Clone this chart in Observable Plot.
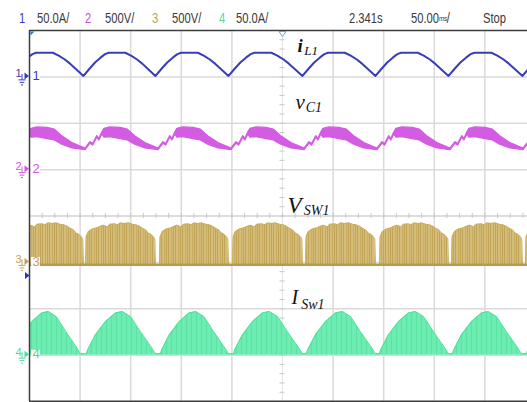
<!DOCTYPE html>
<html><head><meta charset="utf-8">
<script src="https://cdn.jsdelivr.net/npm/d3@7"></script>
<script src="https://cdn.jsdelivr.net/npm/@observablehq/plot@0.6"></script>
<style>
html,body{margin:0;padding:0;background:#fff;width:527px;height:402px;overflow:hidden;}
#hdr{position:relative;height:28px;width:527px;font-family:"Liberation Sans",Arial,sans-serif;font-size:14px;color:#3a3a3a;}
#hdr span{position:absolute;top:11px;line-height:14px;transform:scaleX(0.8);transform-origin:0 0;white-space:nowrap;}
#hdr small{font-size:8px;letter-spacing:-0.5px;vertical-align:2px;}
#chart svg{display:block;}
</style></head><body>
<div id="hdr"></div><div id="chart"></div>
<script>
// ---------- header ----------
const headerText  = ["1","50.0A/","2","500V/","3","500V/","4","50.0A/","2.341s","50.00|ms|/","Stop"];
const headerX     = [19,37,85,105,152,172,219,236,349,411,483];
const headerColor = ["#3a3db5","#3a3a3a","#c44fd6","#3a3a3a","#b8a45e","#3a3a3a","#52d99a","#3a3a3a","#3a3a3a","#3a3a3a","#3a3a3a"];

// ---------- channels ----------
const chNames = ["1","2","3","4"];
const chZero  = [7,5,3,1];               // zero level of each channel, in divisions
const chColor = ["#3a3db5","#cf55e0","#bfa257","#4fdc98"];

// ---------- grid ----------
const xDivs = 9.842;                    // visible horizontal divisions
const gridX = [1,2,3,4,6,7,8,9];
const gridY = [1,2,3,5,6,7];
const centerX = 5, centerY = 4;
const minorX = d3.range(0, 9.9, 0.25);
const minorY = d3.range(0, 8.01, 0.2);

// ---------- CH1  i_L1 (valleys in div, hump shape f -> div) ----------
const iL1Valleys = [-0.375,1.067,2.490,3.933,5.395,6.838,8.281,9.743,11.19];
const iL1ShapeF  = [0,0.08,0.16,0.24,0.30,0.35,0.58,0.66,0.74,0.82,0.91,1];
const iL1ShapeV  = [0.02,0.17,0.31,0.42,0.49,0.52,0.52,0.46,0.38,0.28,0.15,0.02];

// ---------- CH2  v_C1 (band: lower / upper envelope) ----------
const vC1Valleys = [-0.336,1.107,2.549,3.992,5.435,6.877,8.320,9.763,11.206];
const vC1ShapeF  = [0,0.068,0.105,0.16,0.19,0.23,0.26,0.34,0.48,0.58,0.68,0.82,1];
const vC1Lo      = [0.42,0.56,0.52,0.69,0.63,0.76,0.69,0.70,0.66,0.63,0.54,0.46,0.42];
const vC1Hi      = [0.45,0.59,0.55,0.72,0.66,0.80,0.88,0.91,0.90,0.86,0.72,0.57,0.45];

// ---------- CH3  V_SW1 (switching envelope) ----------
const vSWRise   = [-0.336,1.107,2.569,4.012,5.455,6.917,8.340,9.802];
const vSWDrop   = [1.067,2.490,3.933,5.395,6.838,8.281,9.743,11.206];
const vSWShapeF = [0,0.01,0.04,0.1,0.16,0.2,0.25,0.28,0.31,0.35,0.42,0.46,0.5,0.56,0.62,0.67,0.72,0.77,0.82,0.86,0.9,0.94,0.97,0.99,1];
const vSWShapeV = [-0.05,0.55,0.66,0.72,0.74,0.77,0.80,0.79,0.76,0.82,0.83,0.81,0.85,0.84,0.85,0.82,0.81,0.78,0.73,0.70,0.63,0.60,0.55,0.5,-0.05];

// ---------- CH4  I_Sw1 ----------
const iSWStart  = [-0.316,1.126,2.589,4.032,5.474,6.917,8.360,9.822];
const iSWEnd    = [1.008,2.490,3.933,5.395,6.838,8.281,9.723,11.166];
const iSWShapeF = [0,0.02,0.13,0.28,0.42,0.52,0.64,0.78,0.93,1];
const iSWShapeV = [0.03,0.12,0.44,0.73,0.91,0.94,0.83,0.51,0.19,0.03];

// ---------- labels ----------
const labelMain = ["i","v","V","I"];
const labelSub  = ["L1","C1","SW1","Sw1"];
const labelX    = [5.296,5.257,5.099,5.178];
const labelY    = [7.547,6.307,4.075,2.092];
const labelSize = [19,21,23,20];
const subX      = [5.43,5.46,5.42,5.37];
const subY      = [7.461,6.232,4.011,2.005];
const subSize   = [13,14,14,14];

// ---------- trigger markers ----------
const trigPos = [5];
const trigLevel = [2.717];

// ---------- header render ----------
const hdr = document.getElementById("hdr");
headerText.forEach((t,i)=>{
  const s = document.createElement("span");
  s.style.left = headerX[i]+"px"; s.style.color = headerColor[i];
  if (t.includes("|")) { const p=t.split("|"); s.innerHTML = p[0]+"<small>"+p[1]+"</small>"+p[2]; }
  else s.textContent = t;
  hdr.appendChild(s);
});

// ---------- build tables ----------
function humps(starts, ends, F, cols, zero) {
  const pts = [];
  starts.forEach((s,i)=>{
    const e = ends[i];
    F.forEach((f,j)=>{
      const p = {x: s + f*(e-s)};
      for (const k in cols) p[k] = zero + cols[k][j];
      pts.push(p);
    });
  });
  return pts;
}
const ch1 = humps(iL1Valleys.slice(0,-1), iL1Valleys.slice(1), iL1ShapeF, {y:iL1ShapeV}, chZero[0]);
const ch2 = humps(vC1Valleys.slice(0,-1), vC1Valleys.slice(1), vC1ShapeF, {lo:vC1Lo, hi:vC1Hi}, chZero[1]);
const ch3 = humps(vSWRise, vSWDrop, vSWShapeF, {y:vSWShapeV}, chZero[2]);
const ch4 = humps(iSWStart, iSWEnd, iSWShapeF, {y:iSWShapeV}, chZero[3]);
const markers = chNames.map((n,i)=>({n, y:chZero[i], c:chColor[i]}));
const labels = labelMain.map((m,i)=>({m, s:labelSub[i], x:labelX[i], y:labelY[i], fs:labelSize[i], sx:subX[i], sy:subY[i], ss:subSize[i]}));

// custom symbols
const groundSym = {draw(c){ c.moveTo(0,-3); c.lineTo(0,3); c.moveTo(-3.5,3); c.lineTo(3.5,3);
  c.moveTo(-2.3,5.5); c.lineTo(2.3,5.5); c.moveTo(-1,8); c.lineTo(1,8); }};
const arrowRight = {draw(c){ c.moveTo(-2,-3.5); c.lineTo(2.5,0); c.lineTo(-2,3.5); c.closePath(); }};
const arrowDown  = {draw(c){ c.moveTo(-3.5,-2.5); c.lineTo(3.5,-2.5); c.lineTo(0,2.5); c.closePath(); }};
const cornerSym  = {draw(c){ c.moveTo(0,0); c.lineTo(4,0); c.lineTo(0,4); c.closePath(); }};

const serif = "'Liberation Serif','Times New Roman',serif";
const chart = Plot.plot({
  width: 527, height: 374,
  marginLeft: 29, marginRight: 0, marginTop: 2, marginBottom: 1,
  x: {domain: [0, xDivs], axis: null},
  y: {domain: [0, 8], axis: null},
  color: {type: "identity"},
  style: {background: "white", overflow: "visible"},
  marks: [
    Plot.ruleX(gridX, {stroke: "#dadada", strokeWidth: 1.5}),
    Plot.ruleY(gridY, {stroke: "#dadada", strokeWidth: 1.5}),
    Plot.ruleX([centerX], {stroke: "#e4e4e4", strokeWidth: 1}),
    Plot.ruleY([centerY], {stroke: "#d2d2d2", strokeWidth: 1.5}),
    Plot.ruleX(minorX, {x: d=>d, y1: ()=>centerY-0.055, y2: ()=>centerY+0.055, stroke: "#c8c8c8"}),
    Plot.ruleY(minorY, {y: d=>d, x1: ()=>centerX-0.05, x2: ()=>centerX+0.05, stroke: "#c8c8c8"}),

    // CH4
    Plot.areaY(ch4, {x: "x", y1: ()=>chZero[3], y2: "y", fill: "url(#streak4)", clip: true}),
    Plot.line(ch4, {x: "x", y: "y", stroke: "#50e09c", strokeWidth: 1, clip: true}),
    // CH3
    Plot.areaY(ch3, {x: "x", y1: ()=>chZero[2]-0.05, y2: "y", fill: "url(#streak3)", clip: true}),
    Plot.line(ch3, {x: "x", y: "y", stroke: "#cdb060", strokeWidth: 1, clip: true}),
    Plot.ruleY([chZero[2]+vSWShapeV[0]], {stroke: "#b89a48", strokeWidth: 2.5}),
    // CH2
    Plot.areaY(ch2, {x: "x", y1: "lo", y2: "hi", fill: "#d35ce3", stroke: "#d35ce3", strokeWidth: 1.4, clip: true}),
    // CH1
    Plot.line(ch1, {x: "x", y: "y", stroke: "#3a3db5", strokeWidth: 2, clip: true}),

    // labels
    Plot.text(labels.slice(0,1), {x: "x", y: "y", text: "m", fontSize: "fs", fontFamily: serif, fontStyle: "italic", fontWeight: "bold", textAnchor: "start", lineAnchor: "bottom", fill: "#111"}),
    Plot.text(labels.slice(1), {x: "x", y: "y", text: "m", fontSize: "fs", fontFamily: serif, fontStyle: "italic", textAnchor: "start", lineAnchor: "bottom", fill: "#111"}),
    Plot.text(labels, {x: "sx", y: "sy", text: "s", fontSize: "ss", fontFamily: serif, fontStyle: "italic", textAnchor: "start", lineAnchor: "bottom", fill: "#111"}),

    // frame
    Plot.ruleX([0], {stroke: "#3c3c3c", strokeWidth: 1.5}),
    Plot.ruleY([8], {stroke: "#3c3c3c", strokeWidth: 1.5}),
    Plot.ruleY([0], {stroke: "#3c3c3c", strokeWidth: 2}),

    // channel markers
    Plot.dot(markers, {x: ()=>0, y: "y", symbol: ()=>"square", r: 5, dx: 6, dy: -1, fill: ()=>"white", stroke: null}),
    Plot.text(markers, {x: ()=>0, y: "y", text: "n", fill: "c", fontSize: 13, dx: 3, dy: -1, textAnchor: "start", fontFamily: "'Liberation Sans',Arial,sans-serif"}),
    Plot.text(markers, {x: ()=>0, y: "y", text: "n", fill: "c", fontSize: 11, dx: -11, dy: -3, fontFamily: "'Liberation Sans',Arial,sans-serif"}),
    Plot.dot(markers, {x: ()=>0, y: "y", symbol: groundSym, dx: -7.5, dy: 0, fill: "none", stroke: "c", strokeWidth: 1}),
    Plot.dot(markers, {x: ()=>0, y: "y", symbol: arrowRight, dx: -3, dy: -1, fill: "c", stroke: null}),

    // trigger markers
    Plot.dot(trigLevel, {x: ()=>0, y: d=>d, symbol: arrowRight, dx: -2.5, fill: ()=>"#2a35c8", stroke: null}),
    Plot.dot(trigPos, {x: d=>d, y: ()=>8, symbol: arrowDown, dy: 3.5, fill: ()=>"white", stroke: ()=>"#5aa5e0", strokeWidth: 1}),
    Plot.dot([0], {x: d=>d, y: ()=>8, symbol: cornerSym, dx: 1, dy: 1, fill: ()=>"#2f6fd6", stroke: null})
  ]
});
// streak textures for the dense switching waveforms
const NS = "http://www.w3.org/2000/svg";
const defs = document.createElementNS(NS, "defs");
defs.innerHTML =
  '<pattern id="streak3" patternUnits="userSpaceOnUse" width="7" height="20">' +
  '<rect width="7" height="20" fill="#d5bc78"/>' +
  '<rect x="0" width="1" height="20" fill="#c2a456"/><rect x="3" width="1.2" height="20" fill="#c9ad62"/>' +
  '<rect x="5" width="0.8" height="20" fill="#bf9f50"/></pattern>' +
  '<pattern id="streak4" patternUnits="userSpaceOnUse" width="5" height="20">' +
  '<rect width="5" height="20" fill="#6aecb0"/>' +
  '<rect x="1" width="1" height="20" fill="#5de4a5"/><rect x="3.5" width="0.8" height="20" fill="#74f0b8"/></pattern>';
chart.insertBefore(defs, chart.firstChild);
document.getElementById("chart").appendChild(chart);
</script></body></html>
